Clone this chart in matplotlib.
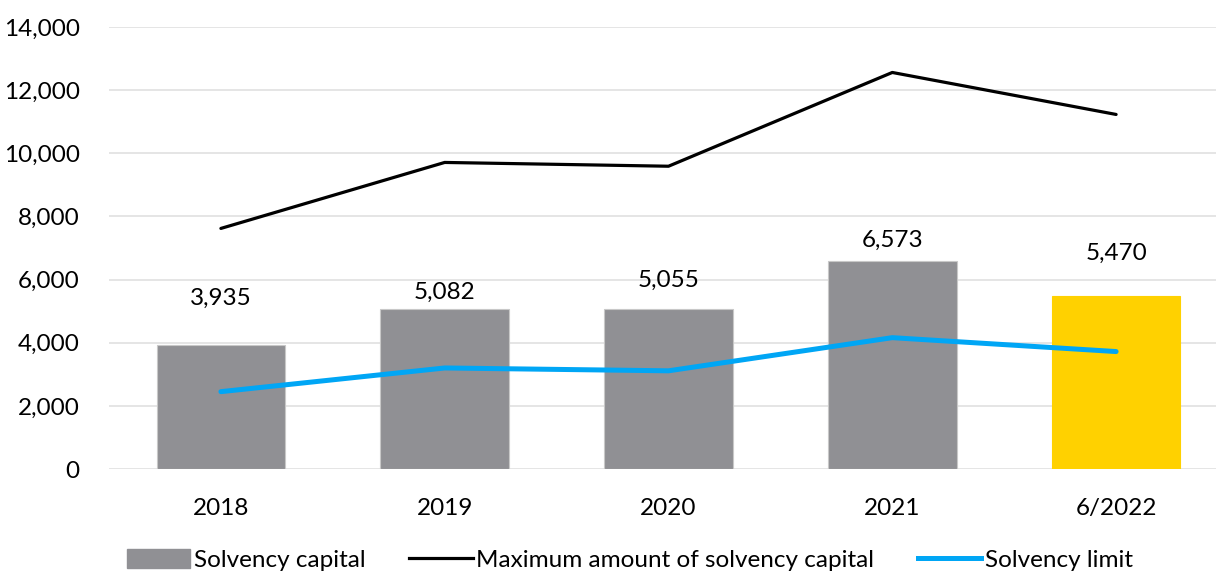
import matplotlib
matplotlib.use("Agg")
import matplotlib.pyplot as plt
from matplotlib.patches import Patch
from matplotlib.lines import Line2D
from matplotlib.ticker import FuncFormatter, MultipleLocator

plt.rcParams['font.family'] = ['Lato', 'DejaVu Sans']

categories = ["2018", "2019", "2020", "2021", "6/2022"]
solvency_capital = [3935, 5082, 5055, 6573, 5470]
max_solvency_capital = [7620, 9710, 9590, 12560, 11230]
solvency_limit = [2450, 3200, 3110, 4160, 3720]

# label vertical offsets (data units above bar top), style only
label_offsets = [1480, 520, 930, 680, 1370]

gray = "#909094"
yellow = "#FFD100"
blue = "#00A6F5"
fs = 17.5

fig = plt.figure(figsize=(12.16, 5.75), dpi=100)
ax = fig.add_axes([109/1216, 1-469/575, (1228-109)/1216, (469-27)/575])

x = list(range(len(categories)))
colors = [gray]*4 + [yellow]
edges = ["#C8C8C8"]*4 + [yellow]
ax.bar(x, solvency_capital, width=0.575, color=colors, edgecolor=edges, linewidth=0.8, zorder=2)
ax.plot(x, max_solvency_capital, color="black", linewidth=2.3, solid_capstyle="round", zorder=3)
ax.plot(x, solvency_limit, color=blue, linewidth=3.6, solid_capstyle="round", zorder=3)

for xi, v, off in zip(x, solvency_capital, label_offsets):
    ax.text(xi, v + off, f"{v:,}", ha="center", va="center", fontsize=fs, color="black")

ax.set_xlim(-0.5, len(categories) - 0.5)
ax.set_ylim(0, 14000)
ax.yaxis.set_major_locator(MultipleLocator(2000))
ax.yaxis.set_major_formatter(FuncFormatter(lambda v, p: f"{int(v):,}"))
ax.set_xticks(x)
ax.set_xticklabels(categories)
ax.tick_params(axis="both", length=0, labelsize=fs, colors="black")
ax.tick_params(axis="x", pad=21)
ax.tick_params(axis="y", pad=21)
ax.grid(axis="y", color="#E0E0E0", linewidth=1.2, zorder=0)
ax.set_axisbelow(True)
for s in ax.spines.values():
    s.set_visible(False)

handles = [
    Patch(facecolor=gray, edgecolor=gray),
    Line2D([0], [0], color="black", linewidth=2.3),
    Line2D([0], [0], color=blue, linewidth=3.6),
]
labels = ["Solvency capital", "Maximum amount of solvency capital", "Solvency limit"]
fig.legend(handles, labels, loc="center", bbox_to_anchor=(630/1216, 1-560/575), ncol=3,
           frameon=False, fontsize=fs, handlelength=2.6, handleheight=0.85,
           handletextpad=0.15, columnspacing=1.8, borderaxespad=0)

fig.savefig("out.png", dpi=100)
